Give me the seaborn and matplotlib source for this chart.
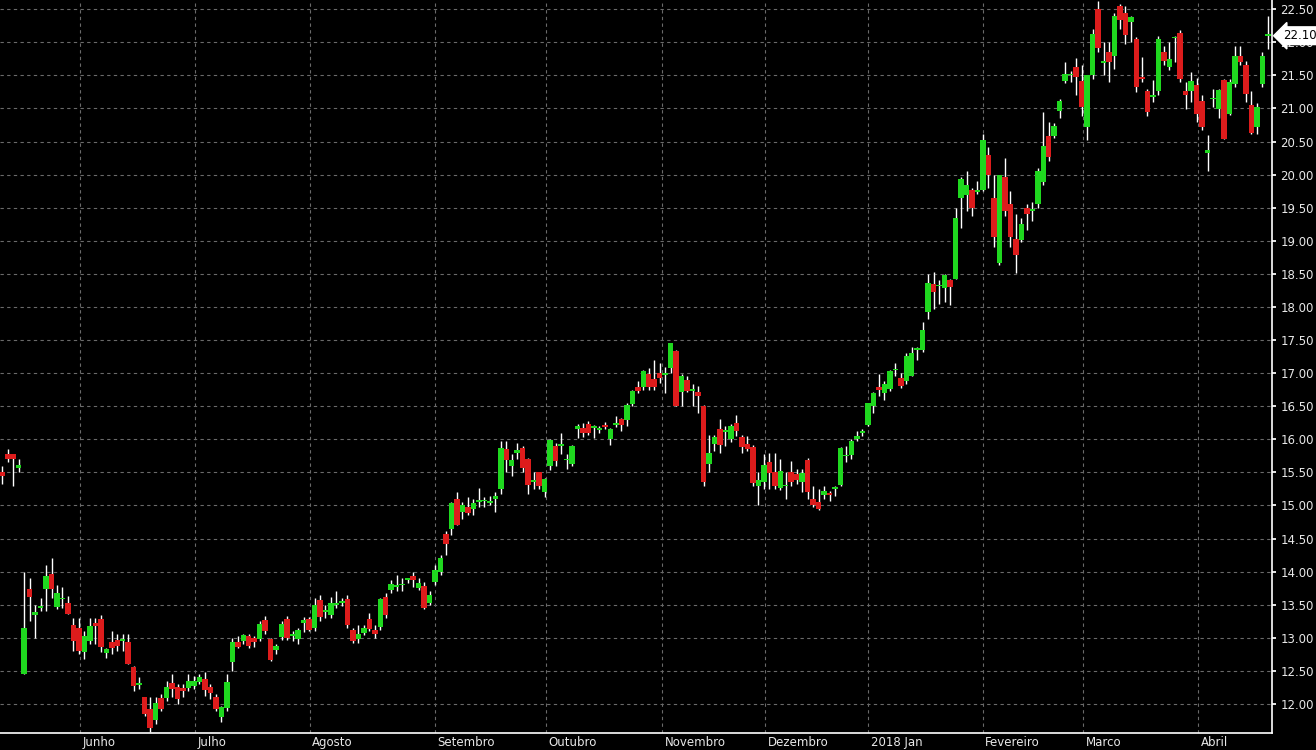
import numpy as np
import pandas as pd
import matplotlib
matplotlib.use("Agg")
import matplotlib.pyplot as plt
import seaborn as sns

# daily candles (open, high, low, close)
opens = [15.5, 15.78, 15.78, 15.57, 12.45, 13.74, 13.34, 13.45, 13.74, 13.96,
         13.47, 13.58, 13.53, 13.2, 13.15, 12.78, 12.95, 13.22, 13.28, 12.77,
         12.94, 12.96, 12.95, 12.93, 12.56, 12.29, 12.11, 11.92, 11.75, 12.09,
         12.09, 12.32, 12.25, 12.24, 12.24, 12.27, 12.33, 12.37, 12.26, 12.11,
         11.8, 11.94, 12.63, 12.94, 12.95, 13.02, 12.99, 12.98, 13.27, 12.98,
         12.82, 13.01, 13.29, 13.03, 12.98, 13.22, 13.29, 13.14, 13.57, 13.39,
         13.34, 13.5, 13.53, 13.59, 13.12, 12.98, 13.07, 13.29, 13.11, 13.16,
         13.62, 13.72, 13.77, 13.79, 13.88, 13.93, 13.75, 13.78, 13.53, 13.84,
         14.0, 14.57, 14.65, 15.1, 14.9, 14.98, 14.95, 15.05, 15.06, 15.04,
         15.1, 15.25, 15.86, 15.6, 15.79, 15.87, 15.7, 15.36, 15.5, 15.2,
         15.6, 15.9, 15.9, 15.68, 15.62, 16.16, 16.17, 16.23, 16.17, 16.14,
         16.22, 16.01, 16.22, 16.3, 16.29, 16.54, 16.79, 16.79, 16.98, 16.91,
         17.0, 16.97, 17.07, 17.33, 16.71, 16.9, 16.73, 16.71, 16.51, 15.63,
         15.93, 16.16, 16.11, 16.0, 16.24, 16.03, 15.93, 15.88, 15.3, 15.35,
         15.65, 15.51, 15.27, 15.29, 15.5, 15.48, 15.36, 15.68, 15.1, 15.05,
         15.16, 15.19, 15.25, 15.31, 15.74, 15.76, 16.0, 16.1, 16.21, 16.5,
         16.79, 16.7, 16.76, 17.04, 16.92, 16.88, 16.95, 17.35, 17.35, 17.93,
         18.35, 18.31, 18.28, 18.4, 18.43, 19.64, 19.69, 19.77, 19.74, 19.77,
         20.3, 19.65, 18.67, 19.97, 19.55, 19.03, 19.01, 19.5, 19.45, 19.55,
         19.89, 20.59, 20.59, 20.96, 21.41, 21.5, 21.63, 21.41, 20.72, 21.5,
         22.5, 21.69, 21.86, 21.79, 22.55, 22.45, 22.31, 22.05, 21.48, 21.27,
         21.18, 21.26, 21.86, 21.62, 22.06, 22.14, 21.27, 21.27, 21.36, 21.12,
         20.32, 21.14, 20.99, 21.43, 20.92, 21.37, 21.8, 21.65, 21.06, 20.72,
         21.37, 22.1]
highs = [15.6, 15.85, 15.78, 15.7, 14.0, 13.9, 13.5, 13.6, 14.1, 14.2,
         13.8, 13.77, 13.63, 13.3, 13.3, 13.1, 13.3, 13.3, 13.35, 12.85,
         13.1, 13.05, 13.05, 13.05, 12.57, 12.4, 12.11, 12.1, 12.1, 12.15,
         12.35, 12.45, 12.3, 12.3, 12.45, 12.42, 12.45, 12.48, 12.3, 12.15,
         11.97, 12.45, 13.0, 13.03, 13.06, 13.05, 13.02, 13.25, 13.33, 13.0,
         12.9, 13.26, 13.33, 13.1, 13.15, 13.32, 13.32, 13.6, 13.64, 13.5,
         13.62, 13.7, 13.6, 13.65, 13.14, 13.2, 13.2, 13.37, 13.2, 13.6,
         13.67, 13.88, 13.95, 13.9, 13.9, 14.0, 13.9, 13.85, 13.7, 14.1,
         14.25, 14.62, 15.05, 15.2, 15.05, 15.12, 15.1, 15.27, 15.12, 15.15,
         15.2, 15.97, 15.97, 15.78, 15.95, 15.9, 15.72, 15.5, 15.5, 15.42,
         16.0, 15.95, 16.1, 15.78, 15.92, 16.23, 16.24, 16.27, 16.22, 16.2,
         16.26, 16.17, 16.35, 16.32, 16.55, 16.74, 16.88, 17.04, 17.07, 17.2,
         17.15, 17.1, 17.45, 17.35, 16.98, 16.95, 16.83, 16.8, 16.52, 16.06,
         16.07, 16.3, 16.2, 16.23, 16.37, 16.06, 16.05, 15.92, 15.5, 15.77,
         15.8, 15.8, 15.7, 15.5, 15.67, 15.55, 15.55, 15.72, 15.3, 15.25,
         15.3, 15.22, 15.3, 15.88, 15.9, 16.0, 16.12, 16.15, 16.55, 16.72,
         16.98, 16.88, 17.05, 17.15, 17.0, 17.3, 17.4, 17.4, 17.78, 18.5,
         18.53, 18.4, 18.5, 18.42, 19.5, 19.97, 20.05, 19.8, 19.9, 20.62,
         20.42, 20.0, 20.0, 20.25, 19.75, 19.4, 19.35, 19.55, 19.58, 20.1,
         20.95, 20.8, 20.78, 21.15, 21.7, 21.57, 21.77, 21.65, 21.51, 22.2,
         22.63, 22.0, 22.0, 22.45, 22.58, 22.55, 22.4, 22.08, 21.78, 21.3,
         21.43, 22.1, 21.95, 22.0, 22.1, 22.18, 21.4, 21.55, 21.46, 21.2,
         20.6, 21.3, 21.3, 21.45, 21.45, 21.95, 21.95, 21.72, 21.26, 21.08,
         21.85, 22.4]
lows = [15.33, 15.65, 15.3, 15.5, 12.45, 13.25, 12.99, 13.4, 13.4, 13.6,
        13.43, 13.45, 13.36, 12.8, 12.75, 12.68, 12.9, 12.9, 12.78, 12.7,
        12.75, 12.8, 12.8, 12.6, 12.2, 12.22, 11.82, 11.58, 11.7, 11.9,
        12.05, 12.1, 12.0, 12.1, 12.2, 12.22, 12.3, 12.12, 12.08, 11.9,
        11.73, 11.9, 12.5, 12.85, 12.9, 12.85, 12.86, 12.95, 13.05, 12.65,
        12.75, 12.97, 12.97, 12.95, 12.9, 13.08, 13.1, 13.1, 13.25, 13.3,
        13.3, 13.45, 13.48, 13.15, 12.92, 12.92, 13.04, 13.1, 13.0, 13.12,
        13.3, 13.68, 13.7, 13.7, 13.82, 13.77, 13.72, 13.44, 13.5, 13.8,
        13.95, 14.25, 14.55, 14.7, 14.8, 14.85, 14.85, 14.98, 14.98, 15.0,
        14.9, 15.17, 15.5, 15.45, 15.7, 15.5, 15.17, 15.25, 15.25, 15.12,
        15.53, 15.6, 15.78, 15.55, 15.6, 16.02, 16.04, 16.06, 16.02, 16.1,
        16.15, 15.92, 16.18, 16.12, 16.2, 16.5, 16.7, 16.75, 16.75, 16.75,
        16.85, 16.7, 17.0, 16.5, 16.5, 16.72, 16.5, 16.4, 15.29, 15.5,
        15.83, 15.8, 15.9, 15.96, 16.05, 15.8, 15.82, 15.3, 15.0, 15.25,
        15.25, 15.25, 15.23, 15.1, 15.3, 15.33, 15.2, 15.1, 14.98, 14.93,
        15.1, 15.07, 15.15, 15.3, 15.65, 15.7, 15.98, 16.05, 16.2, 16.4,
        16.65, 16.6, 16.73, 16.95, 16.78, 16.84, 16.95, 17.2, 17.32, 17.82,
        17.97, 18.05, 18.08, 18.03, 18.43, 19.2, 19.45, 19.38, 19.7, 19.75,
        19.8, 18.9, 18.64, 19.38, 18.9, 18.52, 18.98, 19.17, 19.3, 19.5,
        19.85, 20.2, 20.55, 20.86, 21.39, 21.4, 21.2, 20.88, 20.53, 21.45,
        21.85, 21.5, 21.4, 21.59, 22.2, 21.97, 22.0, 21.25, 21.4, 20.88,
        21.1, 21.2, 21.65, 21.58, 21.7, 21.4, 20.99, 21.1, 20.8, 20.68,
        20.06, 21.02, 20.85, 20.54, 20.9, 21.33, 21.65, 21.1, 20.62, 20.62,
        21.32, 21.9]
closes = [15.45, 15.7, 15.7, 15.61, 13.14, 13.62, 13.39, 13.48, 13.93, 13.73,
          13.67, 13.58, 13.36, 12.95, 12.8, 13.03, 13.17, 13.18, 12.86, 12.83,
          12.85, 12.88, 12.95, 12.61, 12.27, 12.29, 11.85, 11.63, 12.02, 11.92,
          12.25, 12.22, 12.08, 12.19, 12.35, 12.35, 12.41, 12.21, 12.17, 11.92,
          11.95, 12.33, 12.93, 12.86, 13.04, 12.88, 12.94, 13.21, 13.1, 12.67,
          12.87, 13.21, 12.99, 13.03, 13.12, 13.27, 13.12, 13.5, 13.31, 13.39,
          13.53, 13.5, 13.53, 13.19, 12.95, 13.06, 13.14, 13.13, 13.05, 13.59,
          13.34, 13.81, 13.77, 13.79, 13.88, 13.88, 13.83, 13.45, 13.64, 14.02,
          14.2, 14.41, 15.03, 14.71, 15.0, 14.88, 15.04, 15.05, 15.06, 15.04,
          15.15, 15.87, 15.68, 15.69, 15.84, 15.57, 15.31, 15.36, 15.3, 15.4,
          15.99, 15.67, 15.9, 15.68, 15.9, 16.2, 16.1, 16.1, 16.17, 16.14,
          16.18, 16.16, 16.22, 16.21, 16.52, 16.73, 16.73, 17.03, 16.79, 16.79,
          16.93, 16.97, 17.45, 16.51, 16.96, 16.73, 16.73, 16.65, 15.36, 15.8,
          16.03, 15.91, 16.11, 16.2, 16.12, 15.88, 15.85, 15.34, 15.39, 15.61,
          15.49, 15.3, 15.52, 15.29, 15.36, 15.38, 15.49, 15.2, 15.0, 14.95,
          15.22, 15.16, 15.25, 15.87, 15.74, 15.98, 16.05, 16.1, 16.55, 16.7,
          16.74, 16.83, 17.03, 17.04, 16.81, 17.26, 17.31, 17.35, 17.65, 18.36,
          18.23, 18.31, 18.48, 18.3, 19.34, 19.93, 19.85, 19.5, 19.74, 20.53,
          19.99, 19.05, 19.99, 19.45, 19.06, 18.78, 19.25, 19.4, 19.45, 20.05,
          20.44, 20.26, 20.74, 21.12, 21.52, 21.5, 21.47, 21.03, 21.51, 22.13,
          21.91, 21.69, 21.71, 22.4, 22.34, 22.11, 22.38, 21.32, 21.44, 20.94,
          21.18, 22.05, 21.72, 21.75, 22.06, 21.45, 21.21, 21.42, 20.92, 20.72,
          20.38, 21.14, 21.28, 20.54, 21.4, 21.8, 21.7, 21.22, 20.63, 21.03,
          21.8, 22.1]

month_pos = [14.2, 35.2, 56.2, 79, 99.2, 120.5, 139.3, 158.1, 179, 197.3, 218.3]
month_labels = ["Junho", "Julho", "Agosto", "Setembro", "Outubro", "Novembro",
                "Dezembro", "2018 Jan", "Fevereiro", "Marco", "Abril"]
price_ticks = np.arange(12.0, 22.51, 0.5)
last_price = 22.10

df = pd.DataFrame({"open": opens, "high": highs, "low": lows, "close": closes})
df["day"] = np.arange(len(df))
df["up"] = df["close"] >= df["open"]

sns.set_theme(style="dark", rc={"axes.facecolor": "black", "figure.facecolor": "black"})
plt.rcParams["font.family"] = ["DejaVu Sans"]

fig = plt.figure(figsize=(13.16, 7.5), dpi=100)
ax = fig.add_axes([0, 1 - 733 / 750, 1272 / 1316, 733 / 750])
ax.set_facecolor("black")

# wicks
ax.vlines(df["day"], df["low"], df["high"], color="white", linewidth=1.0, zorder=2)
# bodies
body_bottom = np.minimum(df["open"], df["close"])
body_h = np.maximum((df["close"] - df["open"]).abs(), 0.025)
colors = np.where(df["up"], "#1fd81f", "#dd1c1c")
ax.bar(df["day"], body_h, bottom=body_bottom, width=1.0, color=colors,
       edgecolor="none", zorder=3)

ax.set_xlim(-0.4, len(df) - 1 + 0.75)
ax.set_ylim(11.56, 22.64)

ax.set_yticks(price_ticks)
ax.yaxis.tick_right()
ax.set_yticklabels([f"{v:.2f}" for v in price_ticks], color="#e8e8e8", fontsize=8.5)
ax.tick_params(axis="y", length=3, color="white", pad=3)

# month ticks: short marks under the axis, labels left-aligned next to them
ax.set_xticks(month_pos)
ax.set_xticklabels([])
ax.tick_params(axis="x", length=12, color="white", direction="out")
for pos, lab in zip(month_pos, month_labels):
    ax.text(pos + 0.4, -0.004, lab, transform=ax.get_xaxis_transform(),
            ha="left", va="top", fontsize=8.5, color="#e8e8e8")

ax.grid(True, color="#6a6a6a", linestyle=(0, (3, 3)), linewidth=0.8)
for side in ["top", "left"]:
    ax.spines[side].set_visible(False)
for side in ["right", "bottom"]:
    ax.spines[side].set_visible(True)
    ax.spines[side].set_color("white")
    ax.spines[side].set_linewidth(1.2)

ax.annotate(f"{last_price:.2f}", xy=(1.0, last_price), xycoords=("axes fraction", "data"),
            xytext=(8, 0), textcoords="offset points", va="center", ha="left",
            fontsize=8.5, color="black", zorder=10,
            bbox=dict(boxstyle="larrow,pad=0.2", fc="white", ec="white"))

fig.savefig("out.png", dpi=100, facecolor="black")
